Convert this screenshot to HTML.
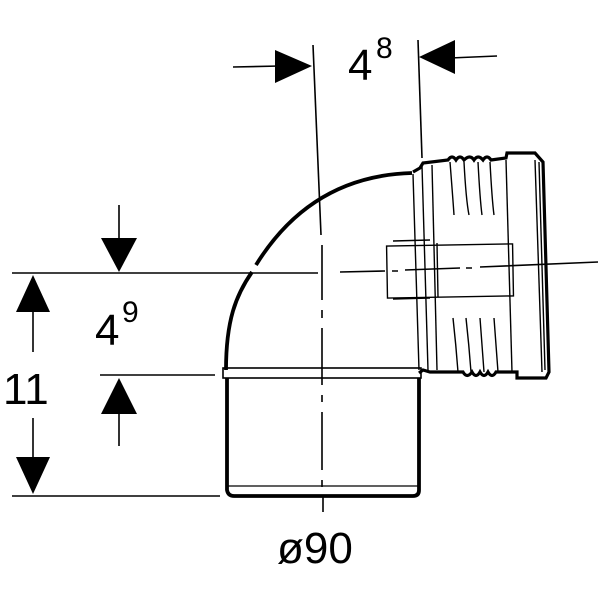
<!DOCTYPE html>
<html><head><style>body{margin:0;background:#fff}svg{display:block}</style></head><body>
<svg width="600" height="600" viewBox="0 0 600 600" xmlns="http://www.w3.org/2000/svg" font-family="Liberation Sans, sans-serif">
<g stroke="#000" fill="none" stroke-width="1.6">
<line x1="12" y1="273" x2="318" y2="273"/>
<line x1="100" y1="375" x2="215" y2="375"/>
<line x1="12" y1="496" x2="220" y2="496"/>
<line x1="313" y1="45" x2="321" y2="235"/>
<line x1="418" y1="40" x2="422" y2="158"/>
<line x1="233" y1="67" x2="280" y2="66"/>
<line x1="450" y1="58" x2="497" y2="56"/>
<line x1="33" y1="310" x2="33" y2="352"/>
<line x1="33" y1="418" x2="33" y2="458"/>
<line x1="119" y1="205" x2="119" y2="240"/>
<line x1="119" y1="412" x2="119" y2="446"/>
<path d="M322 245 V300 M322 310 V318 M322 328 V385 M322 395 V402 M322 412 V470 M322 480 V487 M323 497 V512"/>
<path d="M340 272 L385 271 M392 271 L398 271 M405 270 L460 268 M466 268 L472 268 M480 267 L598 262"/>
</g>
<g fill="#000">
<polygon points="275,50 312,66 275,83"/>
<polygon points="455,40 419,57 455,74"/>
<polygon points="16,312 33,275 50,312"/>
<polygon points="16,457 33,494 50,457"/>
<polygon points="101,238 119,272 137,238"/>
<polygon points="101,414 119,378 137,414"/>
</g>
<g stroke="#000" fill="none">
<path d="M226 370 C226 320 236 295 252 272 M256 265 C290 210 340 175 412 173" stroke-width="3.8"/>
<path d="M227 378 V490 Q228 496 234 496 H413 Q419 496 419 490 V378" stroke-width="3.8"/>
<rect x="223" y="368" width="198" height="10" stroke-width="1.6"/>
<line x1="228" y1="486" x2="418" y2="486" stroke-width="1.3"/>
<path d="M413 172 L420 168 L423 163 L448 160 Q452 154 456 160 Q460 154 464 160 Q470 154 474 160 Q478 154 483 160 Q487 154 491 160 L506 158 L507 153 L535 153 L543 162 L549 372 L546 378 L517 378 L517 372 L496 372 Q492 379 488 372 Q484 379 480 372 Q476 379 472 372 Q467 379 463 372 L430 372 L423 370 L419 373" stroke-width="3.2"/>
<g stroke-width="1.4">
<line x1="413" y1="174" x2="419" y2="370"/>
<line x1="422" y1="166" x2="428" y2="370"/>
<line x1="432" y1="165" x2="437" y2="370"/>
<line x1="506" y1="160" x2="512" y2="372"/>
<line x1="535" y1="160" x2="542" y2="372"/>
<line x1="539" y1="162" x2="545" y2="370"/>
<rect x="387" y="245" width="126" height="52" transform="rotate(-1 450 270)"/>
<line x1="393" y1="241" x2="430" y2="240"/>
<line x1="393" y1="299" x2="430" y2="298"/>
<line x1="437" y1="243" x2="438" y2="297"/>
<path d="M450 162 Q453 200 454 215 M464 162 Q466 200 469 215 M478 162 Q480 200 482 215 M490 162 Q492 200 494 215"/>
<path d="M453 318 Q456 345 458 372 M466 318 Q469 345 471 372 M480 318 Q482 345 484 372 M494 318 Q496 345 498 372"/>
</g>
</g>
<g fill="#000" font-size="44">
<text x="348" y="80">4</text><text x="376" y="58" font-size="30">8</text>
<text x="95" y="345">4</text><text x="122" y="322" font-size="30">9</text>
<text x="3" y="404">11</text>
<text x="277" y="563">ø90</text>
</g>
</svg>
</body></html>
